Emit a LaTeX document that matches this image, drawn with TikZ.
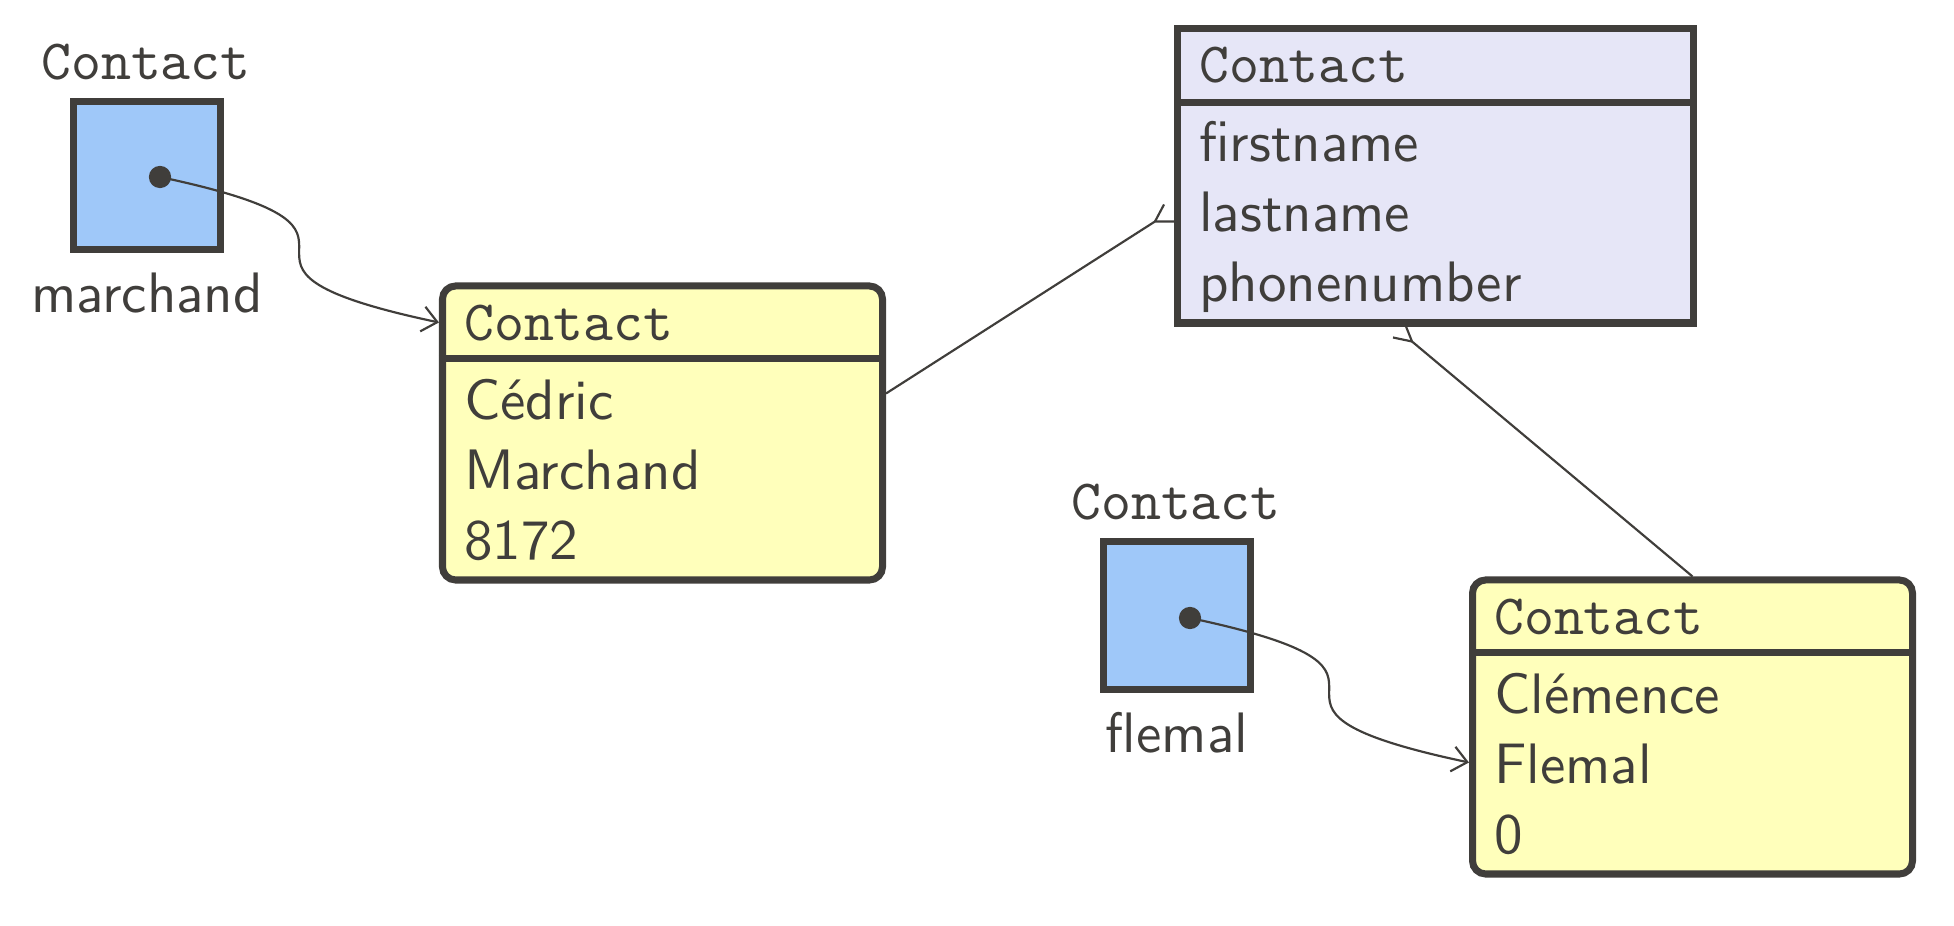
\documentclass[tikz,border=0pt]{standalone}
\usepackage{fontspec}
\usetikzlibrary{arrows.meta,calc}
\definecolor{ink}{RGB}{64,62,59}
\definecolor{varblue}{RGB}{159,200,249}
\definecolor{objyellow}{RGB}{255,255,187}
\definecolor{classlav}{RGB}{230,230,247}
\begin{document}
\begin{tikzpicture}[x=0.1754pt,y=-0.1754pt,
  every node/.style={text=ink},
  txt/.style={anchor=base west, inner sep=0pt, font=\sffamily},
  ctxt/.style={anchor=base, inner sep=0pt, font=\sffamily},
  ttl/.style={anchor=base west, inner sep=0pt, font=\ttfamily},
  cttl/.style={anchor=base, inner sep=0pt, font=\ttfamily},
  varbox/.style={draw=ink, line width=1.23pt, fill=varblue, inner sep=0pt,
    minimum width=25.78pt, minimum height=25.96pt},
  objbox/.style={draw=ink, line width=1.23pt, fill=objyellow, inner sep=0pt,
    rounded corners=2.3pt, minimum width=77.18pt, minimum height=51.57pt},
  classbox/.style={draw=ink, line width=1.23pt, fill=classlav, inner sep=0pt,
    minimum width=90.5pt, minimum height=51.57pt},
  sepline/.style={draw=ink, line width=1.23pt},
  refdot/.style={circle, fill=ink, inner sep=0pt, minimum size=3.9pt},
  conn/.style={draw=ink, line width=0.38pt},
  refarrow/.style={conn, -{Straight Barb[length=2.6pt,width=4.4pt]}}
]
\useasboundingbox (0,0) rectangle (1954,926);

% ---------- class box ----------
\node[classbox] (cls) at (1435.5,176) {};
\draw[sepline] ($(cls.north west)+(0,77)$) -- ($(cls.north east)+(0,77)$);
\node[ttl] (clsh) at (1198,83) {Contact};
\node[txt] (clsa) at (1198,162) {firstname};
\node[txt] (clsb) at (1198,232) {lastname};
\node[txt] (clsc) at (1198,302) {phonenumber};

% ---------- object Cedric ----------
\node[objbox] (ced) at (662.5,433) {};
\draw[sepline] ($(ced.north west)+(0,76)$) -- ($(ced.north east)+(0,76)$);
\node[ttl] (cedh) at (463,341) {Contact};
\node[txt] (ceda) at (463,420) {Cédric};
\node[txt] (cedb) at (463,490) {Marchand};
\node[txt] (cedc) at (463,560) {8172};

% ---------- object Clemence ----------
\node[objbox] (cle) at (1692.5,727) {};
\draw[sepline] ($(cle.north west)+(0,76)$) -- ($(cle.north east)+(0,76)$);
\node[ttl] (cleh) at (1493,635) {Contact};
\node[txt] (clea) at (1493,714) {Clémence};
\node[txt] (cleb) at (1493,784) {Flemal};
\node[txt] (clec) at (1493,854) {0};

% ---------- variable marchand ----------
\node[varbox] (mvar) at (147,175.5) {};
\node[cttl] (mtype) at (146,80) {Contact};
\node[ctxt] (mname) at (147,313) {marchand};
\node[refdot] (mdot) at (160,177) {};

% ---------- variable flemal ----------
\node[varbox] (fvar) at (1177,615.5) {};
\node[cttl] (ftype) at (1176,520) {Contact};
\node[ctxt] (fname) at (1177,753) {flemal};
\node[refdot] (fdot) at (1190,618) {};

% ---------- references ----------
\draw[refarrow] (mdot.center) .. controls +(279,59) and +(-279,-59)
  .. ($(ced.north west)+(0,40)$);
\draw[refarrow] (fdot.center) .. controls +(279,59) and +(-279,-59)
  .. ($(cle.north west)+(0,186)$);

% ---------- instance-of links ----------
\coordinate (j1) at ($(cls.north west)+(-19,196)$);
\draw[conn] ($(ced.north east)+(0,111)$) -- (j1) -- (cls.west |- j1);
\draw[conn] (j1) -- ++(9,-17);

\coordinate (j2) at ($(cls.south west)+(238,15)$);
\draw[conn] (cle.north) -- (j2) -- ++(-6,-15);
\draw[conn] (j2) -- ++(-19,-4);
\end{tikzpicture}
\end{document}
